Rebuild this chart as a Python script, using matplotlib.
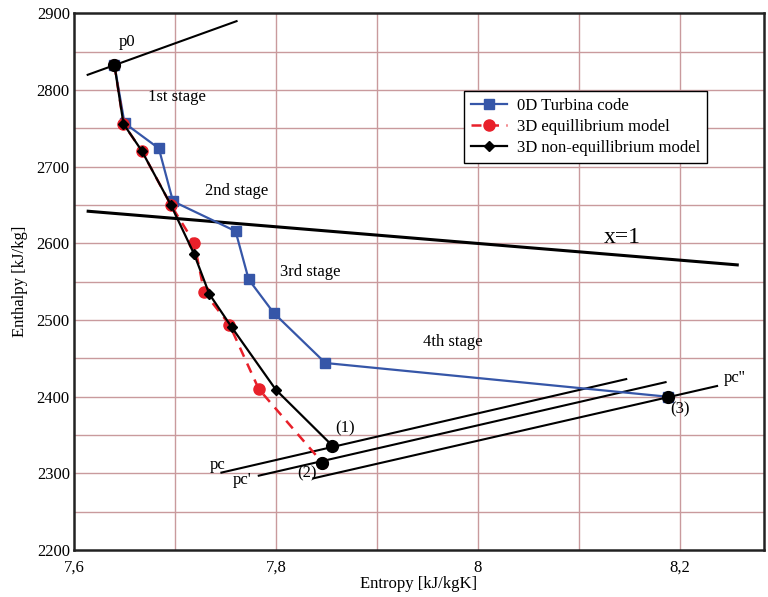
import matplotlib
matplotlib.use("Agg")
import matplotlib.pyplot as plt
import numpy as np

plt.rcParams['font.family'] = ['Liberation Serif', 'DejaVu Serif']
plt.rcParams['font.size'] = 12

# 0D Turbina code
s_0d = [7.640, 7.650, 7.684, 7.698, 7.760, 7.773, 7.798, 7.849, 8.188]
h_0d = [2833, 2757, 2724, 2655, 2616, 2553, 2509, 2444, 2400]

# 3D equilibrium model
s_eq = [7.640, 7.649, 7.667, 7.696, 7.719, 7.729, 7.754, 7.783, 7.846]
h_eq = [2833, 2756, 2721, 2650, 2601, 2536, 2494, 2410, 2314]

# 3D non-equilibrium model
s_neq = [7.640, 7.649, 7.667, 7.696, 7.719, 7.734, 7.756, 7.800, 7.856]
h_neq = [2833, 2756, 2721, 2650, 2586, 2534, 2491, 2409, 2336]

# isobars and saturation line
p0_s, p0_h = [7.6135, 7.761], [2820, 2890]
x1_s, x1_h = [7.614, 8.257], [2642, 2572]
pc_s, pc_h = [7.746, 8.147], [2301, 2423]
pc1_s, pc1_h = [7.783, 8.186], [2297, 2419]
pc2_s, pc2_h = [7.837, 8.237], [2293.5, 2414]

# state points p0, (1), (2), (3)
pt_s = [7.640, 7.856, 7.846, 8.188]
pt_h = [2833, 2336, 2314, 2400]

fig = plt.figure(figsize=(7.68, 5.97), dpi=100)
ax = fig.add_axes([0.0964, 0.0787, 0.8984, 0.8987])

grid_c = '#c99a9d'
for xv in np.arange(7.7, 8.25, 0.1):
    ax.axvline(xv, color=grid_c, lw=1.0, zorder=0)
for yv in np.arange(2250, 2900, 50):
    ax.axhline(yv, color=grid_c, lw=1.0, zorder=0)

for s, h in [(p0_s, p0_h), (pc_s, pc_h), (pc1_s, pc1_h), (pc2_s, pc2_h)]:
    ax.plot(s, h, color='black', lw=1.5, zorder=2)
ax.plot(x1_s, x1_h, color='black', lw=2.2, zorder=2)

ax.plot(s_0d, h_0d, color='#3656a8', lw=1.6, marker='s', ms=6.5,
        label='0D Turbina code', zorder=3)
ax.plot(s_eq, h_eq, color='#e8202a', lw=1.8, ls=(0, (4, 3)), marker='o', ms=8,
        label='3D equillibrium model', zorder=4)
ax.plot(s_neq, h_neq, color='black', lw=1.6, marker='D', ms=5,
        label='3D non-equillibrium model', zorder=5)
ax.plot(pt_s, pt_h, ls='none', marker='o', color='black', ms=8.5, zorder=6)

ax.text(7.6525, 2863, 'p0', ha='center', va='center')
ax.text(7.702, 2791, '1st stage', ha='center', va='center')
ax.text(7.761, 2668, '2nd stage', ha='center', va='center')
ax.text(7.834, 2563, '3rd stage', ha='center', va='center')
ax.text(7.975, 2471, '4th stage', ha='center', va='center')
ax.text(8.143, 2608, 'x=1', ha='center', va='center', fontsize=17)
ax.text(7.868, 2359, '(1)', ha='center', va='center')
ax.text(7.831, 2300, '(2)', ha='center', va='center')
ax.text(8.200, 2383, '(3)', ha='center', va='center')
ax.text(7.742, 2311, 'pc', ha='center', va='center')
ax.text(7.766, 2291, "pc'", ha='center', va='center')
ax.text(8.254, 2425, "pc''", ha='center', va='center')

ax.set_xlim(7.6, 8.2835)
ax.set_ylim(2200, 2900)
ax.set_xticks([7.6, 7.8, 8.0, 8.2])
ax.set_xticklabels(['7,6', '7,8', '8', '8,2'])
ax.set_yticks(np.arange(2200, 2901, 100))
ax.tick_params(length=0, labelsize=12)
ax.tick_params(axis='x', pad=7)
ax.tick_params(axis='y', pad=3)
for sp in ax.spines.values():
    sp.set_linewidth(1.8)
    sp.set_color('#222222')

ax.set_xlabel('Entropy [kJ/kgK]', fontsize=12, labelpad=0)
ax.set_ylabel('Enthalpy [kJ/kg]', fontsize=12, labelpad=6)

leg = ax.legend(loc='upper left', bbox_to_anchor=(0.565, 0.855), fontsize=12,
                fancybox=False, framealpha=1, edgecolor='black',
                borderpad=0.4, labelspacing=0.3, handlelength=2.2,
                handletextpad=0.6, borderaxespad=0)
leg.get_frame().set_linewidth(1.0)

fig.savefig('out.png', dpi=100)
